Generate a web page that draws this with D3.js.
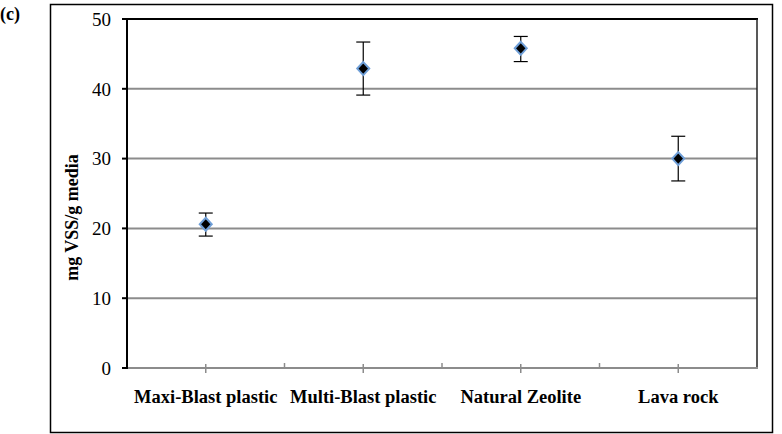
<html>
<head>
  <meta charset="utf-8">
  <script src="https://d3js.org/d3.v7.min.js"></script>
  <style>
    body { margin: 0; background: white; }
  </style>
</head>
<body>
<svg width="782" height="434"></svg>
<script>
var categories = ["Maxi-Blast plastic", "Multi-Blast plastic", "Natural Zeolite", "Lava rock"];
var means = [20.6, 42.9, 45.8, 30.0];
var upper = [22.2, 46.7, 47.5, 33.2];
var lower = [18.9, 39.1, 43.9, 26.8];
var yTicks = [0, 10, 20, 30, 40, 50];

var serif = "'Liberation Serif', 'Times New Roman', serif";
var svg = d3.select("svg");

// outer frame
svg.append("rect")
  .attr("x", 50.5).attr("y", 4.5)
  .attr("width", 722).attr("height", 428)
  .attr("fill", "none").attr("stroke", "#000").attr("stroke-width", 1.5);

svg.append("text")
  .attr("x", 0).attr("y", 20)
  .style("font-family", serif)
  .style("font-size", "18px").style("font-weight", "bold")
  .text("(c)");

var plot = { left: 127, right: 757, top: 19, bottom: 368 };

var x = d3.scaleBand().domain(categories).range([plot.left, plot.right]).padding(0);
var y = d3.scaleLinear().domain([0, 50]).range([plot.bottom, plot.top]);
var cx = function(c) { return x(c) + x.bandwidth() / 2; };

// gridlines
svg.append("g").selectAll("line")
  .data(yTicks.filter(function(d) { return d > 0 && d < 50; }))
  .enter().append("line")
  .attr("x1", plot.left).attr("x2", plot.right)
  .attr("y1", function(d) { return y(d); }).attr("y2", function(d) { return y(d); })
  .attr("stroke", "#8c8c8c").attr("stroke-width", 2);

// plot border top and right
svg.append("line")
  .attr("x1", plot.left).attr("x2", plot.right + 1)
  .attr("y1", y(50)).attr("y2", y(50))
  .attr("stroke", "#000").attr("stroke-width", 2);
svg.append("line")
  .attr("x1", plot.right).attr("x2", plot.right)
  .attr("y1", y(50)).attr("y2", y(0))
  .attr("stroke", "#222").attr("stroke-width", 1.5);

// x axis
svg.append("line")
  .attr("x1", plot.left).attr("x2", plot.right + 1)
  .attr("y1", y(0)).attr("y2", y(0))
  .attr("stroke", "#8c8c8c").attr("stroke-width", 2);

svg.append("g").selectAll("line")
  .data(categories)
  .enter().append("line")
  .attr("x1", function(d) { return cx(d); }).attr("x2", function(d) { return cx(d); })
  .attr("y1", y(0) - 4).attr("y2", y(0) + 5)
  .attr("stroke", "#8c8c8c").attr("stroke-width", 1.5);

svg.append("g").selectAll("line")
  .data(categories.slice(1))
  .enter().append("line")
  .attr("x1", function(d) { return x(d); }).attr("x2", function(d) { return x(d); })
  .attr("y1", y(0) - 5).attr("y2", y(0))
  .attr("stroke", "#8c8c8c").attr("stroke-width", 1.5);

svg.append("g").selectAll("text")
  .data(categories)
  .enter().append("text")
  .attr("x", function(d) { return cx(d); })
  .attr("y", 403)
  .attr("text-anchor", "middle")
  .style("font-family", serif)
  .style("font-size", "18.5px").style("font-weight", "bold")
  .text(function(d) { return d; });

// y axis
var yAxis = svg.append("g");
yAxis.append("line")
  .attr("x1", plot.left).attr("x2", plot.left)
  .attr("y1", y(50) - 1).attr("y2", y(0) + 1)
  .attr("stroke", "#000").attr("stroke-width", 2);
yAxis.selectAll(".yt")
  .data(yTicks)
  .enter().append("line")
  .attr("x1", plot.left - 5).attr("x2", plot.left)
  .attr("y1", function(d) { return y(d); }).attr("y2", function(d) { return y(d); })
  .attr("stroke", "#000").attr("stroke-width", 2);
yAxis.selectAll("text")
  .data(yTicks)
  .enter().append("text")
  .attr("x", 111)
  .attr("y", function(d) { return y(d); })
  .attr("dy", "0.36em")
  .attr("text-anchor", "end")
  .style("font-family", serif)
  .style("font-size", "19px")
  .text(function(d) { return d; });

svg.append("text")
  .attr("transform", "translate(78," + ((plot.top + plot.bottom) / 2 + 24) + ") rotate(-90)")
  .attr("text-anchor", "middle")
  .style("font-family", serif)
  .style("font-size", "18px").style("font-weight", "bold")
  .text("mg VSS/g media");

// error bars
var err = svg.append("g");
categories.forEach(function(c, i) {
  err.append("line")
    .attr("x1", cx(c)).attr("x2", cx(c))
    .attr("y1", y(upper[i])).attr("y2", y(lower[i]))
    .attr("stroke", "#000").attr("stroke-width", 1.2);
  [upper[i], lower[i]].forEach(function(v) {
    err.append("line")
      .attr("x1", cx(c) - 7).attr("x2", cx(c) + 7)
      .attr("y1", y(v)).attr("y2", y(v))
      .attr("stroke", "#000").attr("stroke-width", 1.2);
  });
});

// markers
svg.append("g").selectAll("path")
  .data(categories)
  .enter().append("path")
  .attr("d", "M0,-6.5L6,0L0,6.5L-6,0Z")
  .attr("transform", function(d, i) { return "translate(" + cx(d) + "," + y(means[i]) + ")"; })
  .attr("fill", "#000")
  .attr("stroke", "#6f9fd8")
  .attr("stroke-width", 2);
</script>
</body>
</html>
